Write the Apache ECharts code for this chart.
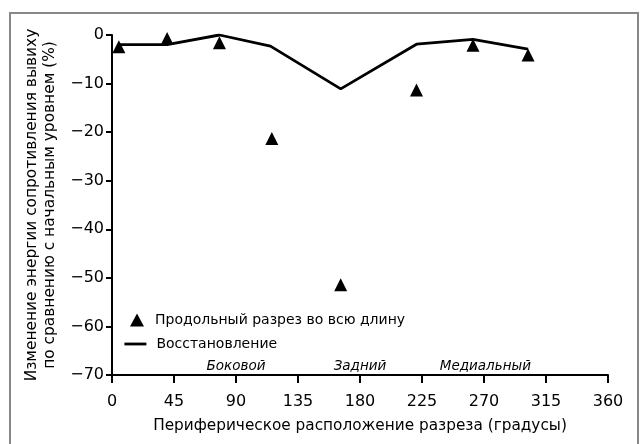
<!DOCTYPE html>
<html>
<head>
<meta charset="utf-8">
<script src="https://cdn.jsdelivr.net/npm/echarts@6/dist/echarts.min.js"></script>
<style>html,body{margin:0;padding:0;background:#fff}#c{width:643px;height:444px}</style>
</head>
<body>
<div id="c"></div>
<script>
const cutAngles = [5, 40, 78, 116, 166, 221, 262, 302];
const fullCutValues = [-2.4, -0.7, -1.6, -21.3, -51.4, -11.3, -2.1, -4.1];
const repairAngles = [5, 40, 78, 115, 166, 221, 262, 302];
const repairValues = [-2.0, -2.0, 0, -2.3, -11.1, -1.9, -0.9, -2.9];
const xTicks = [0, 45, 90, 135, 180, 225, 270, 315, 360];
const yTicks = [0, -10, -20, -30, -40, -50, -60, -70];
const regionNames = ['Боковой', 'Задний', 'Медиальный'];
const regionAngles = [90, 180, 271];
const seriesNames = ['Продольный разрез во всю длину', 'Восстановление'];

const font = '"DejaVu Sans", sans-serif';
const ink = '#000';
const chart = echarts.init(document.getElementById('c'));
chart.setOption({
  animation: false,
  backgroundColor: '#fff',
  textStyle: { fontFamily: font, color: ink },
  grid: { left: 112, right: 35, top: 35, bottom: 69 },
  graphic: [{
    type: 'rect', shape: { x: 10, y: 13, width: 628, height: 440 },
    style: { fill: 'none', stroke: '#888', lineWidth: 2 }, silent: true
  }],
  legend: [{
    orient: 'vertical', left: 125, top: 308, itemWidth: 14, itemHeight: 13,
    data: [{ name: seriesNames[0], icon: 'triangle' }],
    itemStyle: { color: ink, opacity: 1 },
    textStyle: { fontFamily: font, fontSize: 14, color: ink, padding: [0, 0, 0, 6] }
  }, {
    orient: 'vertical', left: 118, top: 332, itemWidth: 22, itemHeight: 14,
    data: [{ name: seriesNames[1], itemStyle: { opacity: 0 } }],
    lineStyle: { color: ink, width: 2.8 },
    textStyle: { fontFamily: font, fontSize: 14, color: ink, padding: [0, 0, 0, 5] }
  }],
  xAxis: {
    type: 'value', min: 0, max: 360, interval: 45,
    name: 'Периферическое расположение разреза (градусы)', nameLocation: 'middle', nameGap: 44,
    nameTextStyle: { fontFamily: font, fontSize: 15.3, color: ink },
    axisLine: { onZero: false, lineStyle: { color: ink, width: 2 } },
    axisTick: { length: 8, lineStyle: { color: ink, width: 2 } },
    axisLabel: { fontFamily: font, fontSize: 16, color: ink, margin: 19,
      formatter: v => xTicks.includes(v) ? String(v) : '' },
    splitLine: { show: false }
  },
  yAxis: {
    type: 'value', min: -70, max: 0, interval: 10,
    name: 'Изменение энергии сопротивления вывиху\nпо сравнению с начальным уровнем (%)',
    nameLocation: 'middle', nameGap: 52,
    nameTextStyle: { fontFamily: font, fontSize: 15.4, color: ink, lineHeight: 18 },
    axisLine: { onZero: false, lineStyle: { color: ink, width: 2 } },
    axisTick: { length: 6, lineStyle: { color: ink, width: 2 } },
    axisLabel: { fontFamily: font, fontSize: 16, color: ink, margin: 8,
      formatter: v => yTicks.includes(v) ? (v < 0 ? '\u2212' + Math.abs(v) : String(v)) : '' },
    splitLine: { show: false }
  },
  series: [
    {
      name: seriesNames[0], type: 'scatter', symbol: 'triangle', symbolSize: [13, 13],
      itemStyle: { color: ink, opacity: 1 }, z: 3,
      data: cutAngles.map((a, i) => [a, fullCutValues[i]])
    },
    {
      name: seriesNames[1], type: 'line', symbol: 'none',
      lineStyle: { color: ink, width: 2.8 }, itemStyle: { color: ink }, z: 2,
      data: repairAngles.map((a, i) => [a, repairValues[i]])
    },
    {
      name: 'regions', type: 'scatter', symbolSize: 0, silent: true,
      itemStyle: { opacity: 1 },
      data: regionAngles.map((a, i) => ({ value: [a, -68.2], name: regionNames[i] })),
      label: { show: true, position: 'inside', formatter: p => p.name,
        fontFamily: font, fontSize: 13.5, fontStyle: 'italic', color: ink }
    }
  ]
});
</script>
</body>
</html>
